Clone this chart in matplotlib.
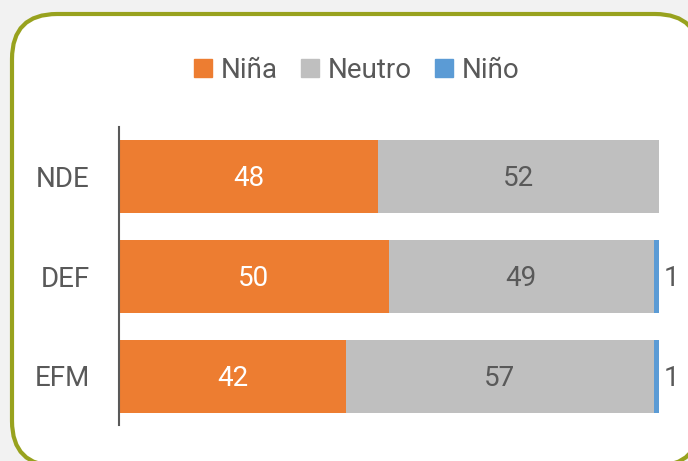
import matplotlib.pyplot as plt
from matplotlib.patches import FancyBboxPatch, Patch

plt.rcParams['font.family'] = ['Roboto', 'DejaVu Sans']

periods = ['NDE', 'DEF', 'EFM']
nina = [48, 50, 42]
neutro = [52, 49, 57]
nino = [0, 1, 1]

c_nina = '#ED7D31'
c_neutro = '#BFBFBF'
c_nino = '#5B9BD5'
txt = '#595959'

fig = plt.figure(figsize=(6.88, 4.61), dpi=100)
fig.patch.set_facecolor('#F2F2F2')

# background axes in pixel units, holds the rounded frame
bg = fig.add_axes([0, 0, 1, 1], zorder=-1)
bg.set_xlim(0, 688)
bg.set_ylim(461, 0)
bg.axis('off')
bg.add_patch(FancyBboxPatch((12, 14), 688, 452,
                            boxstyle='round,pad=0,rounding_size=45',
                            facecolor='white', edgecolor='#98A21E',
                            linewidth=3))

ax = fig.add_axes([119 / 688, 1 - 425 / 461, 540 / 688, 298 / 461], zorder=1)
ax.set_facecolor('none')

y = range(len(periods))
h = 0.73
ax.barh(y, nina, height=h, color=c_nina)
ax.barh(y, neutro, height=h, left=nina, color=c_neutro)
left2 = [a + b for a, b in zip(nina, neutro)]
ax.barh(y, nino, height=h, left=left2, color=c_nino)

fs = 20
for i in y:
    ax.text(nina[i] / 2, i + 0.02, str(nina[i]), ha='center', va='center',
            color='white', fontsize=fs)
    ax.text(nina[i] + neutro[i] / 2, i + 0.02, str(neutro[i]), ha='center',
            va='center', color=txt, fontsize=fs)
    if nino[i] > 0:
        ax.text(left2[i] + nino[i] + 0.8, i + 0.02, str(nino[i]), ha='left',
                va='center', color=txt, fontsize=fs)

ax.set_xlim(0, 100)
ax.set_ylim(2.49, -0.49)
ax.set_yticks(list(y))
ax.set_yticklabels(periods, fontsize=fs, color=txt)
ax.tick_params(axis='y', length=0, pad=21)
ax.set_xticks([])
for s in ['top', 'right', 'bottom']:
    ax.spines[s].set_visible(False)
ax.spines['left'].set_color(txt)
ax.spines['left'].set_linewidth(1.5)

handles = [Patch(color=c_nina, label='Niña'),
           Patch(color=c_neutro, label='Neutro'),
           Patch(color=c_nino, label='Niño')]
leg = fig.legend(handles=handles, loc='center', bbox_to_anchor=(357 / 688, 1 - 70 / 461),
                 ncol=3, frameon=False, fontsize=fs, handlelength=0.62,
                 handleheight=0.62, handletextpad=0.33, columnspacing=0.85)
for t in leg.get_texts():
    t.set_color(txt)

fig.savefig('out.png', dpi=100, facecolor=fig.get_facecolor())
